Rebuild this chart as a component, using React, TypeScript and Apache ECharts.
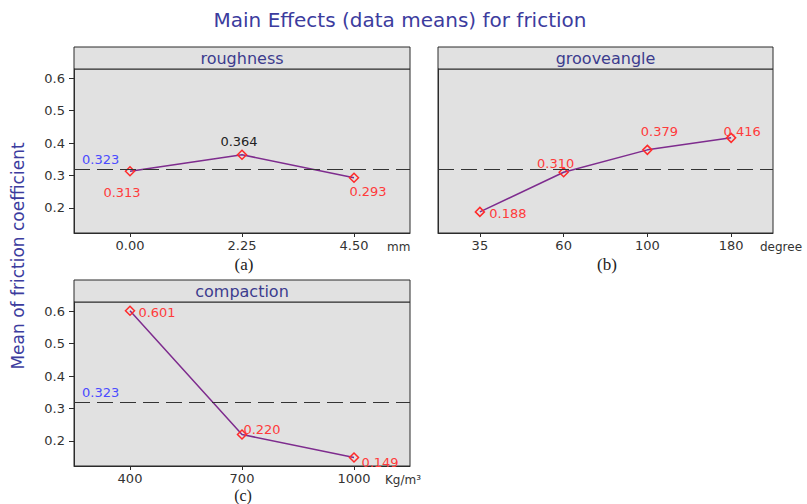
import React, { useEffect, useRef } from 'react';
import * as echarts from 'echarts';

const roughnessCats = ['0.00', '2.25', '4.50'];
const roughnessVals = [0.313, 0.364, 0.293];
const grooveCats = ['35', '60', '100', '180'];
const grooveVals = [0.188, 0.31, 0.379, 0.416];
const compactionCats = ['400', '700', '1000'];
const compactionVals = [0.601, 0.22, 0.149];
const grandMean = 0.323;
const yTicks = [0.2, 0.3, 0.4, 0.5, 0.6];
const yMin = 0.123;
const yMax = 0.628;
const panelTitles = ['roughness', 'grooveangle', 'compaction'];
const unitLabels = ['mm', 'degree', 'Kg/m³'];
const subLabels = ['(a)', '(b)', '(c)'];

// styling (positions / offsets) kept apart from data
const labelOffsets = [
  [[-8, 21], [-3, -13], [14, 14]],
  [[28, 2], [-8, -9], [12, -18], [11, -6]],
  [[27, 2], [20, -5], [26, 5]],
];
const labelColors = [
  ['#FF3B3B', '#222222', '#FF3B3B'],
  ['#FF3B3B', '#FF3B3B', '#FF3B3B', '#FF3B3B'],
  ['#FF3B3B', '#FF3B3B', '#FF3B3B'],
];
const grids = [
  { left: 74, top: 69, width: 336, height: 164 },
  { left: 438, top: 69, width: 335, height: 164 },
  { left: 74, top: 302, width: 336, height: 164 },
];

const FONT = 'DejaVu Sans';

function buildOption() {
  const cats = [roughnessCats, grooveCats, compactionCats];
  const vals = [roughnessVals, grooveVals, compactionVals];

  const grid = grids.map((g) => ({
    ...g,
    show: true,
    backgroundColor: '#E1E1E1',
    borderColor: '#2b2b2b',
    borderWidth: 1,
    containLabel: false,
  }));

  const xAxis = cats.map((c, i) => ({
    type: 'category',
    gridIndex: i,
    data: c,
    boundaryGap: true,
    axisLine: { show: true, lineStyle: { color: '#2b2b2b', width: 1 } },
    axisTick: { show: true, alignWithLabel: true, length: 4, lineStyle: { color: '#2b2b2b' } },
    axisLabel: { margin: 6, fontSize: 13, color: '#333', fontFamily: FONT },
    splitLine: { show: false },
  }));

  const yAxis = cats.map((_, i) => ({
    type: 'value',
    gridIndex: i,
    min: yMin,
    max: yMax,
    splitLine: { show: false },
    axisLine: { show: true, lineStyle: { color: '#2b2b2b', width: 1 } },
    axisTick: {
      show: i !== 1,
      length: 5,
      customValues: yTicks,
      lineStyle: { color: '#2b2b2b' },
    },
    axisLabel: {
      show: i !== 1,
      customValues: yTicks,
      margin: 9,
      fontSize: 13,
      color: '#333',
      fontFamily: FONT,
      formatter: (v: number) => v.toFixed(1),
    },
  }));

  const series = vals.map((v, i) => ({
    type: 'line',
    xAxisIndex: i,
    yAxisIndex: i,
    data: v.map((val, j) => ({
      value: val,
      label: {
        show: true,
        position: 'inside',
        offset: labelOffsets[i][j],
        color: labelColors[i][j],
        fontSize: 13,
        fontFamily: FONT,
        formatter: (p: any) => Number(p.value).toFixed(3),
      },
    })),
    symbol: 'diamond',
    symbolSize: 9,
    showAllSymbol: true,
    lineStyle: { color: '#7E2C8E', width: 1.5 },
    itemStyle: { color: 'rgba(0,0,0,0)', borderColor: '#FF2A2A', borderWidth: 1.5 },
    emphasis: { disabled: true },
    z: 3,
    markLine: {
      silent: true,
      symbol: ['none', 'none'],
      animation: false,
      lineStyle: { color: '#333', type: [16, 7], width: 1 },
      label: {
        show: i !== 1,
        position: 'insideStartTop',
        formatter: grandMean.toFixed(3),
        color: '#4B4BFF',
        fontSize: 13,
        fontFamily: FONT,
        distance: [8, 3],
      },
      data: [{ yAxis: grandMean }],
    },
  }));

  const headerTop = [47, 47, 280];
  const graphic: any[] = [];
  grids.forEach((g, i) => {
    graphic.push({
      type: 'rect',
      shape: { x: g.left, y: headerTop[i], width: g.width, height: g.top - headerTop[i] },
      style: { fill: '#E1E1E1', stroke: '#2b2b2b', lineWidth: 1 },
      silent: true,
    });
    graphic.push({
      type: 'text',
      x: g.left + g.width / 2,
      y: (headerTop[i] + g.top) / 2,
      style: {
        text: panelTitles[i],
        fill: '#3C3C8E',
        font: `16px "${FONT}"`,
        textAlign: 'center',
        textVerticalAlign: 'middle',
      },
      silent: true,
    });
  });

  const unitPos = [
    [387, 247],
    [760, 247],
    [385, 480],
  ];
  unitPos.forEach((p, i) => {
    graphic.push({
      type: 'text',
      x: p[0],
      y: p[1],
      style: {
        text: unitLabels[i],
        fill: '#333',
        font: `12px "${FONT}"`,
        textAlign: 'left',
        textVerticalAlign: 'middle',
      },
      silent: true,
    });
  });

  const subPos = [
    [244, 264, 17],
    [607, 264, 17],
    [243, 495, 16],
  ];
  subPos.forEach((p, i) => {
    graphic.push({
      type: 'text',
      x: p[0],
      y: p[1],
      style: {
        text: subLabels[i],
        fill: '#222',
        font: `${p[2]}px "Liberation Serif"`,
        textAlign: 'center',
        textVerticalAlign: 'middle',
      },
      silent: true,
    });
  });

  graphic.push({
    type: 'text',
    x: 400,
    y: 20,
    style: {
      text: 'Main Effects (data means) for friction',
      fill: '#3C3C9E',
      font: `20px "${FONT}"`,
      textAlign: 'center',
      textVerticalAlign: 'middle',
    },
    silent: true,
  });
  graphic.push({
    type: 'text',
    x: 18,
    y: 256,
    rotation: Math.PI / 2,
    style: {
      text: 'Mean of friction coefficient',
      fill: '#3C3C9E',
      font: `17px "${FONT}"`,
      textAlign: 'center',
      textVerticalAlign: 'middle',
    },
    silent: true,
  });

  return {
    animation: false,
    backgroundColor: '#ffffff',
    grid,
    xAxis,
    yAxis,
    series,
    graphic,
  };
}

export default function App() {
  const ref = useRef<HTMLDivElement>(null);
  useEffect(() => {
    if (!ref.current) return;
    const chart = echarts.init(ref.current, null, { renderer: 'svg' });
    chart.setOption(buildOption() as any);
    return () => {
      chart.dispose();
    };
  }, []);
  return (
    <div
      ref={ref}
      style={{ position: 'absolute', left: 0, top: 0, width: 807, height: 504 }}
    />
  );
}
